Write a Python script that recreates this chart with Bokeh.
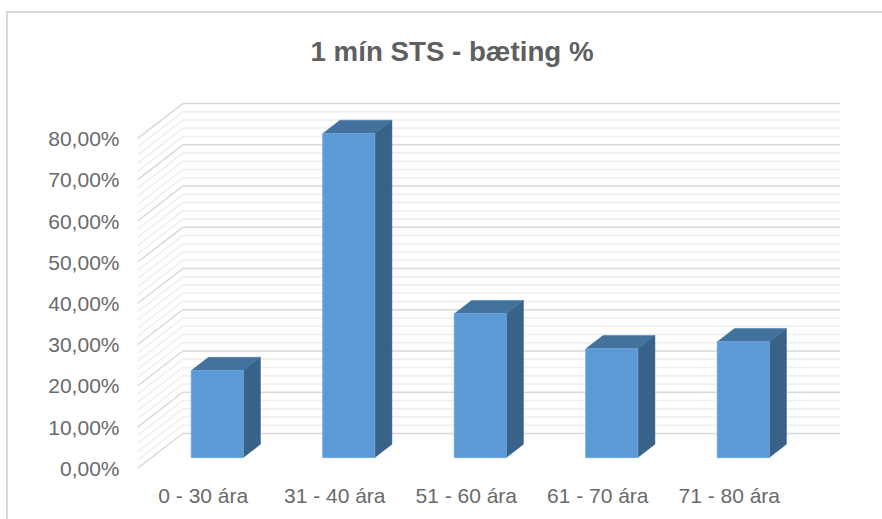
from bokeh.plotting import figure
from bokeh.models import FixedTicker, Range1d
from bokeh.embed import file_html
from bokeh.resources import INLINE

title = "1 mín STS - bæting %"
categories = ["0 - 30 ára", "31 - 40 ára", "51 - 60 ára", "61 - 70 ára", "71 - 80 ára"]
values = [21.1, 78.6, 34.9, 26.4, 28.1]
y_ticks = [0, 10, 20, 30, 40, 50, 60, 70, 80]
y_labels = ["0,00%", "10,00%", "20,00%", "30,00%", "40,00%", "50,00%", "60,00%", "70,00%", "80,00%"]
minor_levels = [v for v in range(0, 81, 2) if v % 10]

# oblique projection: depth of the floor in data units
DX, DY = 0.344, 8.48
BAR_W = 0.395
D0, D1 = 0.31, 0.69

PXX = 131.5
p = figure(width=882, height=519, output_backend="svg", toolbar_location=None,
           x_range=Range1d(-2 / PXX, -2 / PXX + (882 - 135) / PXX), y_range=Range1d(-0.5, 90.2),
           min_border_left=135, min_border_right=0, min_border_top=96, min_border_bottom=49,
           background_fill_color=None, border_fill_color=None, outline_line_color=None)
p.styles = {
    "background-color": "white",
    "background-image": "linear-gradient(#d9d9d9,#d9d9d9),linear-gradient(#d9d9d9,#d9d9d9)",
    "background-size": "100% 2px, 2px 100%",
    "background-position": "6px 11px, 6px 11px",
    "background-repeat": "no-repeat",
}
p.grid.visible = False

p.title.text = title
p.title.align = "left"
p.title.offset = 175
p.title.standoff = 60
p.title.text_font = "Liberation Sans"
p.title.text_font_size = "27.7px"
p.title.text_font_style = "bold"
p.title.text_color = "#5f5f5f"

p.yaxis.ticker = FixedTicker(ticks=y_ticks)
p.yaxis.major_label_overrides = {t: l for t, l in zip(y_ticks, y_labels)}
p.xaxis.ticker = FixedTicker(ticks=[i + 0.5 for i in range(len(categories))])
p.xaxis.major_label_overrides = {i + 0.5: c for i, c in enumerate(categories)}
for ax in (p.xaxis, p.yaxis):
    ax.axis_line_color = None
    ax.major_tick_line_color = None
    ax.minor_tick_line_color = None
    ax.major_label_text_font = "Liberation Sans"
    ax.major_label_text_font_size = "21px"
    ax.major_label_text_color = "#6a6a6a"
p.yaxis.major_label_standoff = 10
p.xaxis.major_label_standoff = 7


def wall(levels):
    n = len(categories)
    xs = [[0, DX, n + DX] for _ in levels]
    ys = [[v, v + DY, v + DY] for v in levels]
    return xs, ys


xs, ys = wall(minor_levels)
p.multi_line(xs, ys, line_color="#eeeeee", line_width=1.5)
xs, ys = wall(y_ticks)
p.multi_line(xs, ys, line_color="#d9d9d9", line_width=1.5)

front_x, front_y, side_x, side_y, top_x, top_y = [], [], [], [], [], []
for i, v in enumerate(values):
    x0 = i + 0.5 - BAR_W / 2 + D0 * DX
    x1 = x0 + BAR_W
    y0 = D0 * DY
    y1 = y0 + v
    ddx, ddy = (D1 - D0) * DX, (D1 - D0) * DY
    front_x.append([x0, x1, x1, x0]); front_y.append([y0, y0, y1, y1])
    side_x.append([x1, x1 + ddx, x1 + ddx, x1]); side_y.append([y0, y0 + ddy, y1 + ddy, y1])
    top_x.append([x0, x1, x1 + ddx, x0 + ddx]); top_y.append([y1, y1, y1 + ddy, y1 + ddy])

p.patches(side_x, side_y, fill_color="#386287", line_color="#386287", line_width=0.5)
p.patches(top_x, top_y, fill_color="#43729e", line_color="#43729e", line_width=0.5)
p.patches(front_x, front_y, fill_color="#5b9ad6", line_color="#6ba5da", line_width=1)

open("out.html", "w").write(file_html(p, INLINE))
